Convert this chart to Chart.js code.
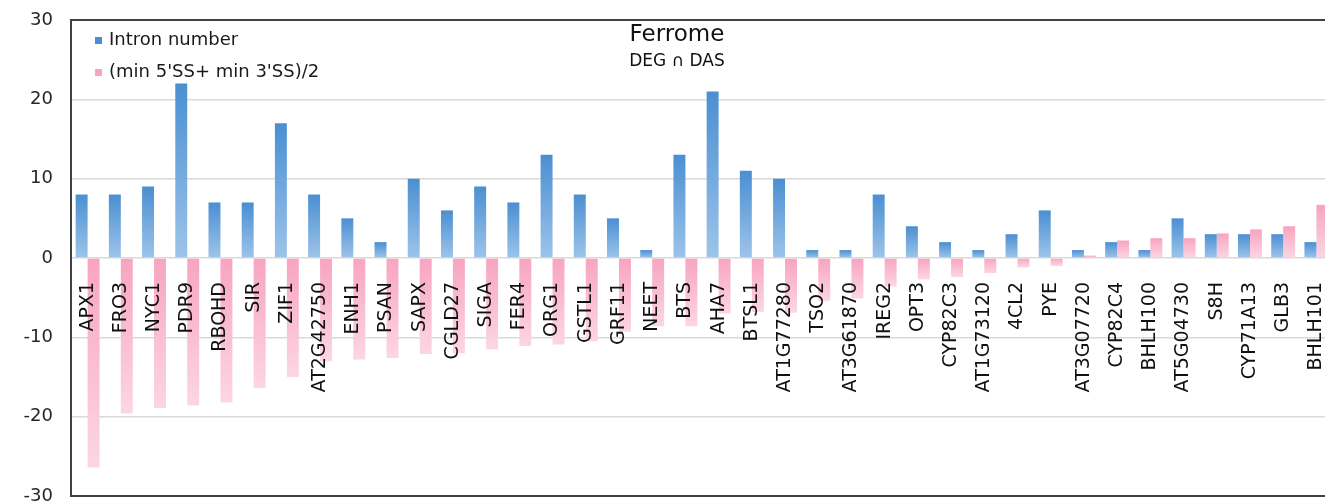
<!DOCTYPE html>
<html>
<head>
<meta charset="utf-8">
<script src="https://cdn.jsdelivr.net/npm/chart.js@4.4.1/dist/chart.umd.min.js"></script>
<style>
  html, body { margin: 0; padding: 0; background: #ffffff; overflow: hidden; }
  #wrap { width: 1340px; height: 504px; }
</style>
</head>
<body>
<div id="wrap"><canvas id="chart" width="1340" height="504"></canvas></div>
<script>
// Genes in the Ferrome DEG ∩ DAS set
const genes = [
  'APX1', 'FRO3', 'NYC1', 'PDR9', 'RBOHD', 'SIR', 'ZIF1', 'AT2G42750', 'ENH1', 'PSAN',
  'SAPX', 'CGLD27', 'SIGA', 'FER4', 'ORG1', 'GSTL1', 'GRF11', 'NEET', 'BTS', 'AHA7',
  'BTSL1', 'AT1G77280', 'TSO2', 'AT3G61870', 'IREG2', 'OPT3', 'CYP82C3', 'AT1G73120', '4CL2', 'PYE',
  'AT3G07720', 'CYP82C4', 'BHLH100', 'AT5G04730', 'S8H', 'CYP71A13', 'GLB3', 'BHLH101'
];

// Number of introns per gene
const intronNumber = [
  8, 8, 9, 22, 7, 7, 17, 8, 5, 2,
  10, 6, 9, 7, 13, 8, 5, 1, 13, 21,
  11, 10, 1, 1, 8, 4, 2, 1, 3, 6,
  1, 2, 1, 5, 3, 3, 3, 2
];

// Mean of the minimum 5' and 3' splice-site scores
const minSpliceSiteScore = [
  -26.4, -19.6, -18.9, -18.6, -18.2, -16.4, -15.0, -13.0, -12.8, -12.6,
  -12.1, -12.0, -11.5, -11.1, -10.9, -10.5, -9.3, -8.6, -8.6, -7.0,
  -6.8, -6.9, -5.4, -5.1, -3.6, -2.7, -2.4, -1.9, -1.2, -1.0,
  0.3, 2.2, 2.5, 2.5, 3.1, 3.6, 4.0, 6.7
];

const yTickValues = [-30, -20, -10, 0, 10, 20, 30];
const seriesNames = ['Intron number', "(min 5'SS+ min 3'SS)/2"];
const chartTitle = 'Ferrome';
const chartSubtitle = 'DEG \u2229 DAS';

const FONT = "'DejaVu Sans', 'Liberation Sans', Arial, sans-serif";

// Vertical gradient along each bar: darker at its upper end, lighter at its lower end
function barGradient(dark, light) {
  return (ctx) => {
    const chart = ctx.chart;
    if (!chart.chartArea || ctx.type !== 'data') return dark;
    const y = chart.scales.y;
    const v = ctx.raw;
    const top = y.getPixelForValue(Math.max(v, 0));
    const bottom = y.getPixelForValue(Math.min(v, 0));
    if (bottom - top < 1) return dark;
    const g = chart.ctx.createLinearGradient(0, top, 0, bottom);
    g.addColorStop(0, dark);
    g.addColorStop(1, light);
    return g;
  };
}

const BLUE = '#4a8fd2';
const BLUE_LIGHT = '#9dc4ea';
const PINK = '#f8a4c1';
const PINK_LIGHT = '#fcd6e3';

// Legend and title drawn inside the plot area
const innerLabels = {
  id: 'innerLabels',
  afterDraw(chart) {
    const c = chart.ctx;
    c.save();
    c.textBaseline = 'middle';
    c.textAlign = 'left';
    c.font = '18px ' + FONT;
    const swatches = [BLUE, PINK];
    const rows = [40, 72];
    chart.data.datasets.forEach((ds, i) => {
      c.fillStyle = swatches[i];
      c.fillRect(95, rows[i] - 3, 7, 7);
      c.fillStyle = '#1a1a1a';
      c.fillText(ds.label, 109, rows[i]);
    });
    c.textAlign = 'center';
    c.font = '23px ' + FONT;
    c.fillStyle = '#111111';
    c.fillText(chartTitle, 677, 35);
    c.font = '17px ' + FONT;
    c.fillText(chartSubtitle, 677, 62);
    c.restore();
  }
};

new Chart(document.getElementById('chart'), {
  type: 'bar',
  data: {
    labels: genes,
    datasets: [
      {
        label: seriesNames[0],
        data: intronNumber,
        backgroundColor: barGradient(BLUE, BLUE_LIGHT),
        borderWidth: 0
      },
      {
        label: seriesNames[1],
        data: minSpliceSiteScore,
        backgroundColor: barGradient(PINK, PINK_LIGHT),
        borderWidth: 0
      }
    ]
  },
  options: {
    responsive: false,
    animation: false,
    events: [],
    layout: { autoPadding: false, padding: { left: 24, right: 7, top: 20, bottom: 8 } },
    datasets: { bar: { categoryPercentage: 0.72, barPercentage: 1.0 } },
    plugins: {
      legend: { display: false },
      title: { display: false },
      tooltip: { enabled: false }
    },
    scales: {
      x: {
        position: { y: 0 },
        grid: { display: false },
        border: { display: false },
        afterFit: (scale) => {
          scale.height = 0;
          scale.paddingLeft = 0;
          scale.paddingRight = 0;
          scale.paddingTop = 0;
          scale.paddingBottom = 0;
        },
        ticks: {
          z: 1,
          autoSkip: false,
          minRotation: 90,
          maxRotation: 90,
          padding: 16,
          color: '#111111',
          font: { family: FONT, size: 19 }
        }
      },
      y: {
        min: -30,
        max: 30,
        afterBuildTicks: (scale) => { scale.ticks = yTickValues.map(v => ({ value: v })); },
        afterFit: (scale) => {
          scale.width = 47;
          scale.paddingTop = 0;
          scale.paddingBottom = 0;
          scale.paddingLeft = 0;
          scale.paddingRight = 0;
        },
        grid: {
          drawTicks: false,
          color: (ctx) => (ctx.tick && Math.abs(ctx.tick.value) === 30) ? '#404040' : '#d9d9d9',
          lineWidth: (ctx) => (ctx.tick && Math.abs(ctx.tick.value) === 30) ? 2 : 1.5
        },
        border: { display: true, color: '#404040', width: 2 },
        ticks: {
          padding: 18,
          color: '#262626',
          font: { family: FONT, size: 18 }
        }
      }
    }
  },
  plugins: [innerLabels]
});
</script>
</body>
</html>
